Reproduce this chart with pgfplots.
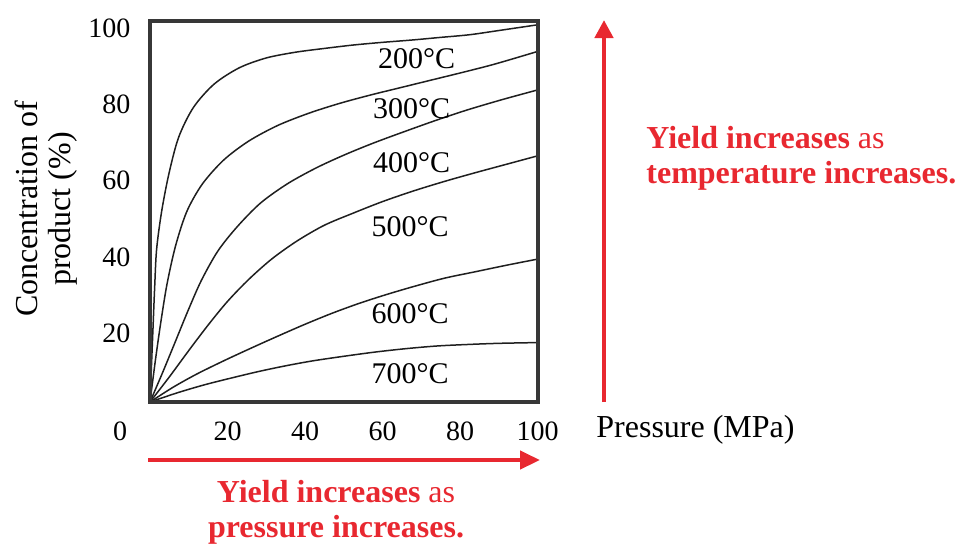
\documentclass[border=0pt]{standalone}
\usepackage{fontspec}
\setmainfont{Liberation Serif}
\usepackage{pgfplots}
\pgfplotsset{compat=1.18}
\usetikzlibrary{arrows.meta}
\definecolor{redtxt}{RGB}{232,40,48}
\definecolor{boxgray}{RGB}{55,55,55}

\pgfplotstableread{
p c
0 0
0.4 10
0.8 20
1.2 30
1.7 40
3.0 50
4.9 60
7.4 69.5
11.2 77.3
16.5 83.4
23 87.7
30 90.3
37.5 91.8
45 92.8
52.5 93.7
60 94.4
67.5 95.0
75 95.7
82.5 96.4
90 97.5
100 99
}\tA
\pgfplotstableread{
p c
0 0
1.4 11
2.8 21
4.4 31
6.6 41
9.5 50
13.5 57.2
19 63.5
25.5 68.5
33 72.6
41 75.8
49 78.4
57 80.6
65 82.6
73 84.6
81 86.6
89 88.7
100 92
}\tB
\pgfplotstableread{
p c
0 0
3.2 7.6
6.4 15.5
9.7 23.7
13.2 31.8
17.5 39.6
22.5 46
28.5 52.2
35.5 57.3
43 61.5
50.5 65
58 68.1
66 71.1
74 74
82 76.7
91 79.4
100 81.9
}\tC
\pgfplotstableread{
p c
0 0
5 6.6
10 13.5
15 20.2
20 26.4
25.5 32.2
31.5 37.6
38 42.3
45 46.4
52.5 49.6
60 52.6
68 55.4
76 57.9
84 60.2
92 62.4
100 64.6
}\tD
\pgfplotstableread{
p c
0 0
6 3.9
12 7.3
19 10.8
26 14.1
33 17.3
40 20.4
47 23.3
54 25.9
61 28.2
68 30.3
76 32.5
84 34.2
92 35.9
100 37.5
}\tE
\pgfplotstableread{
p c
0 0
7 2.4
14 4.5
21 6.3
28 8.0
35 9.5
42 10.8
50 12.0
58 13.1
66 14.0
74 14.7
82 15.1
90 15.4
100 15.6
}\tF

\begin{document}
\begin{tikzpicture}
\begin{axis}[
  at={(0,0)}, anchor=south west,
  width=193.75pt, height=190.5pt, scale only axis,
  xmin=0, xmax=100, ymin=0, ymax=100,
  xtick={20,40,60,80,100}, ytick={20,40,60,80,100},
  tick style={draw=none},
  axis line style={draw=boxgray, line width=2pt},
  axis on top,
  /pgf/number format/assume math mode=true,
  ticklabel style={font=\fontsize{14}{16}\selectfont},
  xticklabel style={anchor=base, yshift=-19pt},
  yticklabel style={anchor=base east, xshift=-6.3pt, yshift=-8.2pt},
  curve/.style={line width=0.75pt, draw=black!88, smooth, no markers, solid},
]
\addplot[curve] table[x=p, y=c] {\tA};
\addplot[curve] table[x=p, y=c] {\tB};
\addplot[curve] table[x=p, y=c] {\tC};
\addplot[curve] table[x=p, y=c] {\tD};
\addplot[curve] table[x=p, y=c] {\tE};
\addplot[curve] table[x=p, y=c] {\tF};
\begin{scope}[every node/.style={font=\fontsize{15}{17}\selectfont, inner sep=0pt}]
\node at (axis cs:68.8,90.2) {200°C};
\node at (axis cs:67.5,77.1) {300°C};
\node at (axis cs:67.5,62.7) {400°C};
\node at (axis cs:67.1,46.0) {500°C};
\node at (axis cs:67.1,23.3) {600°C};
\node at (axis cs:67.1,7.5) {700°C};
\end{scope}
\end{axis}
% origin label
\node[anchor=base, inner sep=0pt, font=\fontsize{14}{16}\selectfont] at (-15pt,-19pt) {0};
% y label
\node[rotate=90, align=center, inner sep=0pt, font=\fontsize{16}{16.5}\selectfont] at (-52pt,96.5pt) {Concentration of\\product (\%)};
% x label
\node[anchor=base west, inner sep=0pt, font=\fontsize{16}{18}\selectfont] at (223pt,-17.5pt) {Pressure (MPa)};
% red arrows
\draw[redtxt, line width=2.2pt, -{Triangle[length=10pt,width=9pt]}] (-1pt,-29pt) -- (195pt,-29pt);
\draw[redtxt, line width=2.2pt, -{Triangle[length=9pt,width=9pt]}] (227pt,0pt) -- (227pt,191pt);
\begin{scope}[every node/.style={text=redtxt, inner sep=0pt, font=\fontsize{16}{18}\selectfont}]
\node[anchor=base] at (93pt,-50pt) {\textbf{Yield increases} as};
\node[anchor=base] at (93pt,-67.5pt) {\textbf{pressure increases.}};
\node[anchor=base west] at (248pt,127pt) {\textbf{Yield increases} as};
\node[anchor=base west] at (248pt,109.5pt) {\textbf{temperature increases.}};
\end{scope}
\pgfresetboundingbox
\path[use as bounding box] (-75pt,-70.5pt) rectangle (403pt,201pt);
\end{tikzpicture}
\end{document}
